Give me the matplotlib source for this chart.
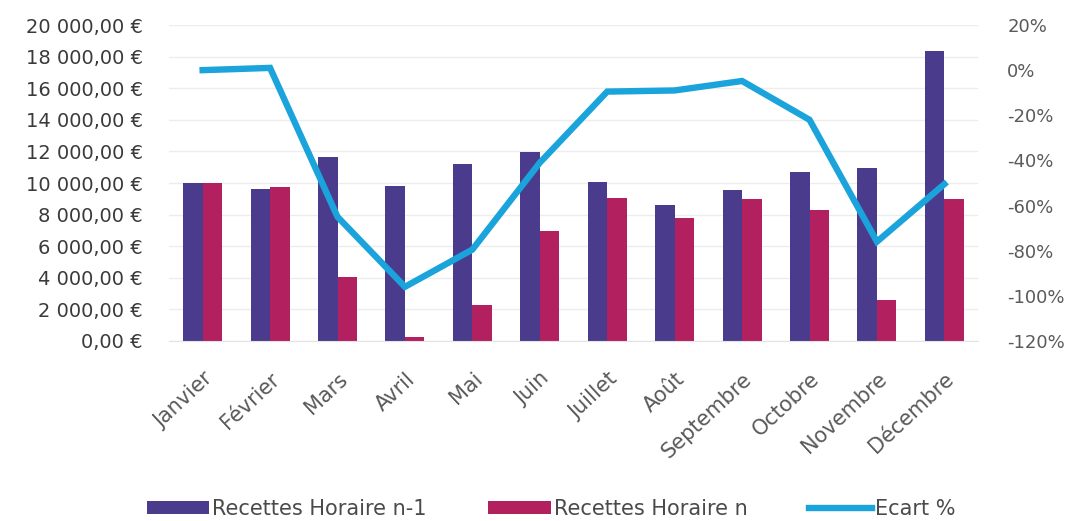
import numpy as np
import matplotlib.pyplot as plt
from matplotlib.ticker import FuncFormatter, MultipleLocator

plt.rcParams['font.family'] = ['DejaVu Sans']

mois = ["Janvier", "Février", "Mars", "Avril", "Mai", "Juin", "Juillet",
        "Août", "Septembre", "Octobre", "Novembre", "Décembre"]
recettes_n1 = [10000, 9650, 11650, 9800, 11230, 11940, 10050, 8580, 9530, 10680, 10960, 18380]
recettes_n = [10000, 9760, 4020, 250, 2290, 6960, 9065, 7800, 8960, 8285, 2610, 9000]
ecart = [0.0, 1.0, -65.0, -96.0, -79.5, -41.0, -9.5, -9.0, -4.8, -22.0, -76.0, -50.5]

c_n1 = "#4a3b8c"
c_n = "#b3205f"
c_line = "#1ba3dc"

fig = plt.figure(figsize=(10.76, 5.21), dpi=100)
ax = fig.add_axes([0.157, 0.3455, 0.752, 0.6065])
x = np.arange(len(mois))
w = 0.29
ax.bar(x - w / 2, recettes_n1, w, color=c_n1, label="Recettes Horaire n-1", zorder=2)
ax.bar(x + w / 2, recettes_n, w, color=c_n, label="Recettes Horaire n", zorder=2)
ax.set_xlim(-0.5, 11.5)
ax.set_ylim(0, 20000)
ax.yaxis.set_major_locator(MultipleLocator(2000))
ax.yaxis.set_major_formatter(FuncFormatter(
    lambda v, p: "{:,.2f} €".format(v).replace(",", " ").replace(".", ",")))
ax.grid(axis="y", color="#ededed", lw=1, zorder=0)
for s in ax.spines.values():
    s.set_visible(False)
ax.spines["bottom"].set_visible(True)
ax.spines["bottom"].set_color("#e3e3e3")
ax.tick_params(axis="y", length=0, labelsize=14, colors="#3a3a3a", pad=19)
ax.set_xticks(x)
ax.set_xticklabels(mois, rotation=43, ha="right", rotation_mode="anchor",
                   color="#595959", fontsize=15)
ax.tick_params(axis="x", length=0, pad=20)

ax2 = ax.twinx()
ax2.plot(x, ecart, color=c_line, lw=4.6, label="Ecart %", zorder=3,
         solid_joinstyle="miter")
ax2.set_ylim(-120, 20)
ax2.yaxis.set_major_locator(MultipleLocator(20))
ax2.yaxis.set_major_formatter(FuncFormatter(lambda v, p: "{:.0f}%".format(v)))
for s in ax2.spines.values():
    s.set_visible(False)
ax2.tick_params(length=0, labelsize=13, colors="#5a5a5a", pad=21)

h1, l1 = ax.get_legend_handles_labels()
h2, l2 = ax2.get_legend_handles_labels()
fig.legend(h1 + h2, l1 + l2, loc="center", bbox_to_anchor=(0.512, 0.023),
           ncol=3, frameon=False, fontsize=15, handlelength=3.0,
           handleheight=0.6, handletextpad=0.15, columnspacing=2.95,
           labelcolor="#4a4a4a")

fig.savefig("out.png", dpi=100)
